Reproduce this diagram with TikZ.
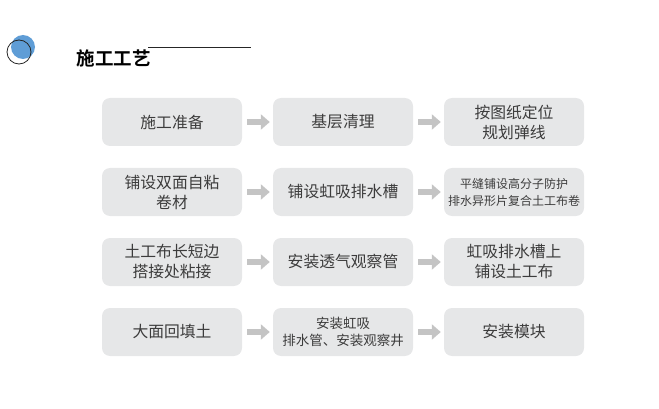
\documentclass[tikz,border=0pt]{standalone}
\usepackage{fontspec}
\newfontfamily\cjk{Noto Sans CJK SC}[BoldFont={Noto Sans CJK SC Bold}]
\usetikzlibrary{arrows.meta, positioning}
\definecolor{procgray}{RGB}{230,231,232}
\definecolor{textgray}{RGB}{60,60,60}
\definecolor{arrowgray}{RGB}{196,196,196}
\definecolor{dotblue}{RGB}{95,157,214}
\tikzset{
  % Process step box
  stepbox/.style={
    rectangle, rounded corners=8pt, minimum width=140pt, minimum height=48pt,
    align=center, font=\cjk\fontsize{15.8}{20}\selectfont, fill=procgray,
    text=textgray, inner sep=2pt
  },
  smalltext/.style={font=\cjk\fontsize{12}{17}\selectfont},
  midtext/.style={font=\cjk\fontsize{13.5}{17}\selectfont},
  steparrow/.style={-{Triangle[length=9pt, width=15pt]}, line width=6pt,
    color=arrowgray, shorten <=5pt, shorten >=3pt}
}
\begin{document}
\begin{tikzpicture}[x=1pt, y=-1pt]
  \useasboundingbox (0,0) rectangle (659,409);

  % Heading marker and title
  \fill[dotblue] (23,47) circle (12);
  \draw[black!85, line width=0.8pt] (19,52) circle (12);
  \node[font=\cjk\bfseries\fontsize{18.5}{20}\selectfont, anchor=west] (title) at (73,58) {施工工艺};
  \draw[black!85, line width=0.8pt] (148,47) -- (251,47);

  % Row 1
  \node[stepbox] (prep) at (172,122) {施工准备};
  \node[stepbox] (clean) at (343,122) {基层清理};
  \node[stepbox] (mark) at (514,122) {按图纸定位\\规划弹线};

  % Row 2
  \node[stepbox] (roll) at (172,192) {铺设双面自粘\\卷材};
  \node[stepbox] (slot) at (343,192) {铺设虹吸排水槽};
  \node[stepbox, smalltext] (sheet) at (514,192) {平缝铺设高分子防护\\排水异形片复合土工布卷};

  % Row 3
  \node[stepbox] (bond) at (172,262) {土工布长短边\\搭接处粘接};
  \node[stepbox] (vent) at (343,262) {安装透气观察管};
  \node[stepbox] (cloth) at (514,262) {虹吸排水槽上\\铺设土工布};

  % Row 4
  \node[stepbox] (fill) at (172,332) {大面回填土};
  \node[stepbox, midtext] (pipe) at (343,332) {安装虹吸\\排水管、安装观察井};
  \node[stepbox] (module) at (514,332) {安装模块};

  % --- Arrows within each row ---
  \draw[steparrow] (prep.east) -- (clean.west);
  \draw[steparrow] (clean.east) -- (mark.west);
  \draw[steparrow] (roll.east) -- (slot.west);
  \draw[steparrow] (slot.east) -- (sheet.west);
  \draw[steparrow] (bond.east) -- (vent.west);
  \draw[steparrow] (vent.east) -- (cloth.west);
  \draw[steparrow] (fill.east) -- (pipe.west);
  \draw[steparrow] (pipe.east) -- (module.west);
\end{tikzpicture}
\end{document}
